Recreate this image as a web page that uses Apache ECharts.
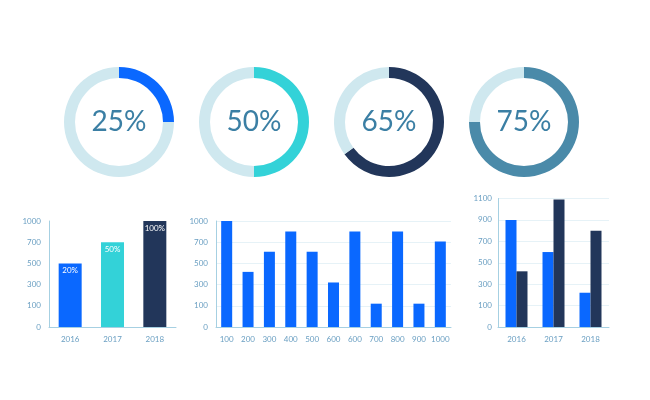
<!DOCTYPE html>
<html>
<head>
<meta charset="utf-8">
<script src="https://cdn.jsdelivr.net/npm/echarts@6/dist/echarts.min.js"></script>
<style>
html,body{margin:0;padding:0;background:#fff;}
#c{width:650px;height:400px;}
</style>
</head>
<body>
<div id="c"></div>
<script>
// ---- data ----
var donutValues = [25, 50, 65, 75];

var chart1Categories = ['2016', '2017', '2018'];
var chart1Values = [500, 700, 1000];
var chart1Labels = ['20%', '50%', '100%'];
var chart1Ticks = [0, 100, 300, 500, 700, 1000];

var chart2Categories = ['100', '200', '300', '400', '500', '600', '600', '700', '800', '900', '1000'];
var chart2Values = [1000, 420, 610, 850, 610, 320, 850, 120, 850, 120, 710];
var chart2Ticks = [0, 100, 300, 500, 700, 1000];

var chart3Categories = ['2016', '2017', '2018'];
var chart3SeriesA = [900, 600, 220];
var chart3SeriesB = [420, 1090, 800];
var chart3Ticks = [0, 100, 300, 500, 700, 900, 1100];

// ---- styles ----
var donutColors = ['#0a68ff', '#33d2d8', '#22365a', '#4a8aa9'];
var ringColor = '#cfe8ef';
var blue = '#0a68ff', teal = '#33d2d8', navy = '#22365a';
var labelColor = '#6a9fc2';
var axisColor = '#a6d0e2';
var gridColor = '#e6f2f7';
var font = 'Lato, "Open Sans", sans-serif';

// piecewise mapping of a value onto evenly spaced tick positions
function pos(v, ticks) {
  for (var i = 0; i < ticks.length - 1; i++) {
    if (v <= ticks[i + 1]) {
      return i + (v - ticks[i]) / (ticks[i + 1] - ticks[i]);
    }
  }
  return ticks.length - 1;
}

var chart = echarts.init(document.getElementById('c'), null, {renderer: 'canvas'});

var donutCenters = [119, 254, 389, 524];
var series = [];
donutValues.forEach(function (v, i) {
  series.push({
    type: 'pie',
    silent: true,
    center: [donutCenters[i], 122],
    radius: [44, 55],
    startAngle: 90,
    clockwise: true,
    avoidLabelOverlap: false,
    labelLine: {show: false},
    emphasis: {disabled: true},
    data: [
      {value: v, itemStyle: {color: donutColors[i]},
       label: {show: true, position: 'center', formatter: v + '%',
               fontFamily: font, fontSize: 28, fontWeight: 'normal', color: '#3b7fa4'}},
      {value: 100 - v, itemStyle: {color: ringColor}, label: {show: false}}
    ]
  });
});

function yAxisFor(gridIndex, ticks, margin, showSplit) {
  return {
    type: 'value', gridIndex: gridIndex, min: 0, max: ticks.length - 1, interval: 1,
    axisLine: {show: true, lineStyle: {color: axisColor, width: 1}},
    axisTick: {show: false},
    splitLine: {show: showSplit, lineStyle: {color: gridColor, width: 1}},
    axisLabel: {
      color: labelColor, fontFamily: font, fontSize: 8, margin: margin,
      formatter: function (val) {
        var k = Math.round(val);
        return Math.abs(val - k) < 1e-6 ? String(ticks[k]) : '';
      }
    }
  };
}
function xAxisFor(gridIndex, cats) {
  return {
    type: 'category', gridIndex: gridIndex, data: cats,
    axisLine: {show: true, lineStyle: {color: axisColor, width: 1}},
    axisTick: {show: false},
    axisLabel: {color: labelColor, fontFamily: font, fontSize: 8, margin: 8, interval: 0}
  };
}

series.push({
  type: 'bar', xAxisIndex: 0, yAxisIndex: 0, barWidth: 23, silent: true,
  data: chart1Values.map(function (v, i) {
    return {value: pos(v, chart1Ticks), itemStyle: {color: [blue, teal, navy][i]},
            label: {show: true, position: 'insideTop', distance: 3, formatter: chart1Labels[i],
                    color: '#ffffff', fontFamily: font, fontSize: 8}};
  })
});
series.push({
  type: 'bar', xAxisIndex: 1, yAxisIndex: 1, barWidth: 11, silent: true,
  itemStyle: {color: blue},
  data: chart2Values.map(function (v) { return pos(v, chart2Ticks); })
});
series.push({
  type: 'bar', xAxisIndex: 2, yAxisIndex: 2, barWidth: 11, barGap: '0%', silent: true,
  itemStyle: {color: blue},
  data: chart3SeriesA.map(function (v) { return pos(v, chart3Ticks); })
});
series.push({
  type: 'bar', xAxisIndex: 2, yAxisIndex: 2, barWidth: 11, barGap: '0%', silent: true,
  itemStyle: {color: navy},
  data: chart3SeriesB.map(function (v) { return pos(v, chart3Ticks); })
});

chart.setOption({
  animation: false,
  backgroundColor: '#ffffff',
  grid: [
    {left: 49, top: 221, width: 127, height: 106, containLabel: false},
    {left: 216, top: 221, width: 235, height: 106, containLabel: false},
    {left: 498, top: 198.5, width: 111, height: 128.5, containLabel: false}
  ],
  xAxis: [xAxisFor(0, chart1Categories), xAxisFor(1, chart2Categories), xAxisFor(2, chart3Categories)],
  yAxis: [yAxisFor(0, chart1Ticks, 8, false), yAxisFor(1, chart2Ticks, 8, true), yAxisFor(2, chart3Ticks, 6, true)],
  series: series
});
</script>
</body>
</html>
